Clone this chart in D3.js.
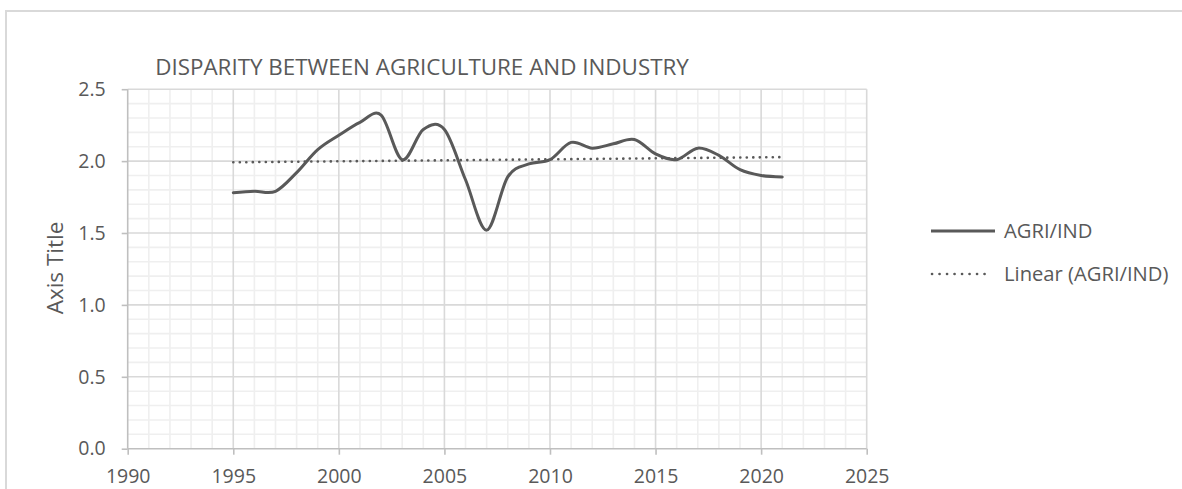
<!DOCTYPE html>
<html>
<head>
<meta charset="utf-8">
<script src="https://cdn.jsdelivr.net/npm/d3@7"></script>
<style>
  html, body { margin: 0; padding: 0; background: #ffffff; }
  svg { display: block; }
  text { font-family: "Open Sans", "Noto Sans", sans-serif; fill: #595959; }
</style>
</head>
<body>
<svg id="chart" width="1182" height="489"></svg>
<script>
// AGRI/IND ratio by year
const years = [1995, 1996, 1997, 1998, 1999, 2000, 2001, 2002, 2003, 2004, 2005, 2006, 2007,
               2008, 2009, 2010, 2011, 2012, 2013, 2014, 2015, 2016, 2017, 2018, 2019, 2020, 2021];
const ratio = [1.78, 1.79, 1.79, 1.92, 2.08, 2.18, 2.27, 2.32, 2.01, 2.22, 2.22, 1.87, 1.52,
               1.89, 1.98, 2.01, 2.13, 2.09, 2.12, 2.15, 2.05, 2.01, 2.09, 2.04, 1.94, 1.90, 1.89];

const xTicks = [1990, 1995, 2000, 2005, 2010, 2015, 2020, 2025];
const yTicks = [0.0, 0.5, 1.0, 1.5, 2.0, 2.5];

const chartTitle = "DISPARITY BETWEEN AGRICULTURE AND INDUSTRY";
const yAxisTitle = "Axis Title";
const seriesName = "AGRI/IND";
const trendName = "Linear (AGRI/IND)";

const svg = d3.select("#chart");
const ink = "#595959";

// chart frame
svg.append("path")
  .attr("d", "M6,489 L6,11 L1182,11")
  .attr("fill", "none")
  .attr("stroke", "#d9d9d9")
  .attr("stroke-width", 2);

const x = d3.scaleLinear().domain([1990, 2025]).range([127.7, 866.7]);
const y = d3.scaleLinear().domain([0, 2.5]).range([448.7, 89.2]);

const grid = svg.append("g");

// minor gridlines: every year, every 0.1
const minorX = d3.range(1991, 2025).filter(v => v % 5 !== 0);
const minorY = d3.range(1, 25).filter(v => v % 5 !== 0).map(v => v / 10);
grid.selectAll("line.mx").data(minorX).join("line")
  .attr("x1", d => x(d)).attr("x2", d => x(d))
  .attr("y1", y(0)).attr("y2", y(2.5))
  .attr("stroke", "#efefef").attr("stroke-width", 1.6);
grid.selectAll("line.my").data(minorY).join("line")
  .attr("x1", x(1990)).attr("x2", x(2025))
  .attr("y1", d => y(d)).attr("y2", d => y(d))
  .attr("stroke", "#efefef").attr("stroke-width", 1.6);

// major gridlines
grid.selectAll("line.Mx").data(xTicks.slice(1)).join("line")
  .attr("x1", d => x(d)).attr("x2", d => x(d))
  .attr("y1", y(0)).attr("y2", y(2.5))
  .attr("stroke", "#d9d9d9").attr("stroke-width", 1.6);
grid.selectAll("line.My").data(yTicks.slice(1)).join("line")
  .attr("x1", x(1990)).attr("x2", x(2025))
  .attr("y1", d => y(d)).attr("y2", d => y(d))
  .attr("stroke", "#d9d9d9").attr("stroke-width", 1.6);

// axes
const yAxis = svg.append("g")
  .attr("transform", `translate(${x(1990)},0)`)
  .call(d3.axisLeft(y).tickValues(yTicks).tickFormat(d3.format(".1f")).tickSize(6).tickPadding(16));
const xAxis = svg.append("g")
  .attr("transform", `translate(0,${y(0)})`)
  .call(d3.axisBottom(x).tickValues(xTicks).tickFormat(d3.format("d")).tickSize(6).tickPadding(14));

[yAxis, xAxis].forEach(g => {
  g.select(".domain").attr("stroke", "#bfbfbf").attr("stroke-width", 1.6);
  g.selectAll(".tick line").attr("stroke", "#bfbfbf").attr("stroke-width", 1.6);
  g.selectAll(".tick text")
    .attr("fill", ink)
    .style("font-family", '"Open Sans", "Noto Sans", sans-serif')
    .style("font-size", "19.5px");
});
yAxis.select(".domain").attr("d", `M0,${y(2.5)}V${y(0)}`);
xAxis.select(".domain").attr("d", `M${x(1990)},0H${x(2025)}`);

// linear trend of the series (least squares)
const mx = d3.mean(years), my = d3.mean(ratio);
const slope = d3.sum(years, (v, i) => (v - mx) * (ratio[i] - my)) / d3.sum(years, v => (v - mx) * (v - mx));
const intercept = my - slope * mx;
const trendEnds = [years[0], years[years.length - 1]];

svg.append("line")
  .attr("x1", x(trendEnds[0])).attr("y1", y(intercept + slope * trendEnds[0]))
  .attr("x2", x(trendEnds[1])).attr("y2", y(intercept + slope * trendEnds[1]))
  .attr("stroke", ink).attr("stroke-width", 2.6)
  .attr("stroke-linecap", "round")
  .attr("stroke-dasharray", "0.1 6.4");

// smoothed series line
const line = d3.line()
  .x((d, i) => x(years[i]))
  .y(d => y(d))
  .curve(d3.curveCardinal.tension(0));

svg.append("path")
  .datum(ratio)
  .attr("d", line)
  .attr("fill", "none")
  .attr("stroke", ink)
  .attr("stroke-width", 3)
  .attr("stroke-linejoin", "round")
  .attr("stroke-linecap", "round");

// chart title
svg.append("text")
  .attr("x", 422).attr("y", 75)
  .attr("text-anchor", "middle")
  .style("font-size", "22.4px")
  .text(chartTitle);

// value axis title
svg.append("text")
  .attr("transform", "translate(63,268) rotate(-90)")
  .attr("text-anchor", "middle")
  .style("font-size", "22.5px")
  .text(yAxisTitle);

// legend
const legend = svg.append("g");
legend.append("line")
  .attr("x1", 931).attr("x2", 995).attr("y1", 231).attr("y2", 231)
  .attr("stroke", ink).attr("stroke-width", 3);
legend.append("text")
  .attr("x", 1004).attr("y", 238)
  .style("font-size", "20.2px")
  .text(seriesName);
legend.append("line")
  .attr("x1", 932).attr("x2", 992).attr("y1", 274).attr("y2", 274)
  .attr("stroke", ink).attr("stroke-width", 2.6)
  .attr("stroke-linecap", "round")
  .attr("stroke-dasharray", "0.1 7.4");
legend.append("text")
  .attr("x", 1004).attr("y", 281)
  .style("font-size", "20.2px")
  .text(trendName);
</script>
</body>
</html>
